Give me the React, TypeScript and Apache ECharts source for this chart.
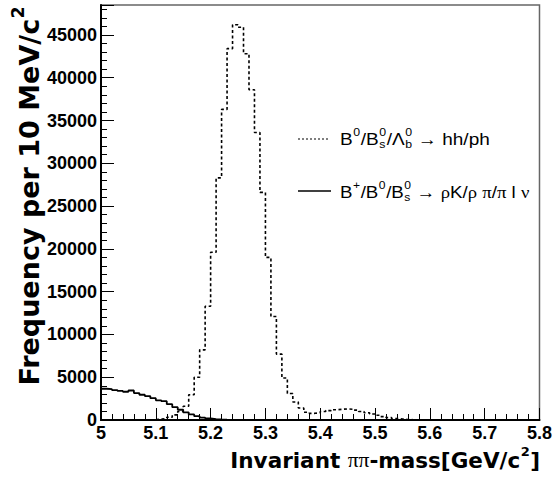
import React, { useEffect, useRef } from "react";
import * as echarts from "echarts";

// ---- data (10 MeV bins from 5.00 to 5.80 GeV/c^2) ----
const BIN_START = 5.0;
const BIN_WIDTH = 0.01;
const N_BINS = 80;

// B0/Bs/Lb -> hh/ph (dotted)
const hhCounts = [
  0, 0, 0, 0, 0, 0, 0, 0, 20, 50,
  100, 180, 320, 600, 1000, 1600, 2950, 5000, 8200, 13300,
  19600, 28300, 36300, 43400, 46200, 45900, 42800, 38600, 33600, 26600,
  19000, 12100, 7700, 4900, 3100, 2100, 1400, 900, 780, 850,
  1000, 1100, 1200, 1250, 1300, 1250, 1150, 1000, 850, 700,
  550, 400, 280, 180, 110, 60, 30, 10, 0, 0,
  0, 0, 0, 0, 0, 0, 0, 0, 0, 0,
  0, 0, 0, 0, 0, 0, 0, 0, 0, 0,
];

// B+/B0/Bs -> rhoK/rho pi/pi l nu (solid)
const slCounts = [
  3650, 3600, 3500, 3400, 3300, 3450, 3150, 2950, 2800, 2550,
  2300, 2200, 1850, 1500, 1200, 900, 650, 450, 280, 180,
  110, 70, 40, 25, 15, 10, 0, 0, 0, 0,
  0, 0, 0, 0, 0, 0, 0, 0, 0, 0,
  0, 0, 0, 0, 0, 0, 0, 0, 0, 0,
  0, 0, 0, 0, 0, 0, 0, 0, 0, 0,
  0, 0, 0, 0, 0, 0, 0, 0, 0, 0,
  0, 0, 0, 0, 0, 0, 0, 0, 0, 0,
];

const xTickLabels = ["5", "5.1", "5.2", "5.3", "5.4", "5.5", "5.6", "5.7", "5.8"];
const X_MIN = 5.0;
const X_MAX = 5.8;
const Y_MAX = 48500;

type Seg = [string, string, string?];
const xTitle: Seg[] = [["b", "Invariant "], ["g", "ππ"], ["b", "-mass[GeV/c"], ["sup", "2"], ["b", "]"]];
const yTitle: Seg[] = [["b", "Frequency per 10 MeV/c"], ["sup", "2"]];
const hhLegend: Seg[] = [
  ["n", "B"], ["sup", "0"], ["n", "/B"], ["ss", "0", "s"], ["n", "/Λ"], ["ss", "0", "b"], ["n", " → hh/ph"],
];
const slLegend: Seg[] = [
  ["n", "B"], ["sup", "+"], ["n", "/B"], ["sup", "0"], ["n", "/B"], ["ss", "0", "s"], ["n", " → "],
  ["g", "ρ"], ["n", "K/"], ["g", "ρ"], ["n", " "], ["g", "π"], ["n", "/"], ["g", "π"], ["n", " l "], ["g", "ν"],
];

function histPoints(counts: number[]) {
  const pts: [number, number][] = [];
  for (let i = 0; i < N_BINS; i++) {
    pts.push([+(BIN_START + i * BIN_WIDTH).toFixed(2), counts[i]]);
  }
  pts.push([X_MAX, counts[N_BINS - 1]]);
  return pts;
}

let measureCtx: CanvasRenderingContext2D | null = null;
function tw(text: string, size: number, family: string, weight: string) {
  if (!measureCtx) measureCtx = document.createElement("canvas").getContext("2d");
  measureCtx!.font = `${weight} ${size}px "${family}"`;
  return measureCtx!.measureText(text).width;
}

function layoutSegs(segs: Seg[], size: number, family: string, weight: string) {
  const children: any[] = [];
  let x = 0;
  const mk = (text: string, px: number, py: number, fs: number, fam: string, fw: string) => ({
    type: "text",
    x: px,
    y: py,
    style: { text, fontSize: fs, fontFamily: fam, fontWeight: fw, fill: "#000", align: "left", verticalAlign: "middle" },
  });
  const small = Math.round(size * 0.62);
  for (const s of segs) {
    const kind = s[0];
    if (kind === "n" || kind === "b") {
      children.push(mk(s[1], x, 0, size, family, weight));
      x += tw(s[1], size, family, weight);
    } else if (kind === "g") {
      children.push(mk(s[1], x, 0, size, "Liberation Serif", "normal"));
      x += tw(s[1], size, "Liberation Serif", "normal");
    } else if (kind === "sup") {
      children.push(mk(s[1], x + 0.5, -size * 0.4, small, family, weight));
      x += tw(s[1], small, family, weight) + 1;
    } else if (kind === "ss") {
      children.push(mk(s[1], x + 0.5, -size * 0.4, small, family, weight));
      children.push(mk(s[2] as string, x + 0.5, size * 0.28, small, family, weight));
      x += Math.max(tw(s[1], small, family, weight), tw(s[2] as string, small, family, weight)) + 1;
    }
  }
  return { children, width: x };
}

export default function App() {
  const ref = useRef<HTMLDivElement>(null);
  useEffect(() => {
    if (!ref.current) return;
    const chart = echarts.init(ref.current, undefined, { renderer: "svg" });

    const xt = layoutSegs(xTitle, 21.5, "DejaVu Sans", "bold");
    const yt = layoutSegs(yTitle, 27, "DejaVu Sans", "bold");
    const l1 = layoutSegs(hhLegend, 17, "Liberation Sans", "normal");
    const l2 = layoutSegs(slLegend, 17, "Liberation Sans", "normal");

    const axisFont = { fontFamily: "Liberation Sans", fontWeight: "bold" as const, fontSize: 18, color: "#000" };

    chart.setOption({
      animation: false,
      backgroundColor: "#fff",
      grid: { left: 101, top: 5, right: 15, bottom: 60, show: true, borderColor: "#666", borderWidth: 1.5 },
      xAxis: {
        type: "value",
        min: X_MIN,
        max: X_MAX,
        interval: 0.1,
        axisLine: { lineStyle: { color: "#000", width: 2 } },
        axisTick: { inside: true, length: 12, lineStyle: { color: "#000", width: 1 } },
        minorTick: { show: true, splitNumber: 5, length: 6, lineStyle: { color: "#000", width: 1 } },
        splitLine: { show: false },
        axisLabel: {
          ...axisFont,
          margin: 4,
          formatter: (v: number) => xTickLabels[Math.round((v - X_MIN) / 0.1)] ?? "",
        },
      },
      yAxis: {
        type: "value",
        min: 0,
        max: Y_MAX,
        interval: 5000,
        axisLine: { lineStyle: { color: "#000", width: 2 } },
        axisTick: { inside: true, length: 13, lineStyle: { color: "#000", width: 1 } },
        minorTick: { show: true, splitNumber: 5, length: 6, lineStyle: { color: "#000", width: 1 } },
        splitLine: { show: false },
        axisLabel: { ...axisFont, margin: 4, showMaxLabel: false, formatter: (v: number) => String(v) },
      },
      series: [
        {
          type: "line",
          step: "end",
          showSymbol: false,
          data: histPoints(hhCounts),
          lineStyle: { color: "#000", width: 1.6, type: [3, 2.5] },
          z: 3,
        },
        {
          type: "line",
          step: "end",
          showSymbol: false,
          data: histPoints(slCounts),
          lineStyle: { color: "#000", width: 1.8, type: "solid" },
          z: 3,
        },
      ],
      graphic: {
        elements: [
          { type: "group", x: 540 - xt.width, y: 460, children: xt.children },
          { type: "group", x: 29, y: 6, rotation: Math.PI / 2, children: yt.children.map((c: any) => ({ ...c, x: c.x - yt.width })) },
          { type: "line", shape: { x1: 298, y1: 139, x2: 330, y2: 139 }, style: { stroke: "#000", lineWidth: 1.2, lineDash: [2, 2] } },
          { type: "group", x: 340, y: 139, scaleX: 1.12, children: l1.children },
          { type: "line", shape: { x1: 298, y1: 191, x2: 331, y2: 191 }, style: { stroke: "#000", lineWidth: 1.4 } },
          { type: "group", x: 340, y: 192, scaleX: 1.1, children: l2.children },
        ],
      },
    });
    return () => chart.dispose();
  }, []);
  return <div ref={ref} style={{ position: "fixed", left: 0, top: 0, width: 555, height: 480, background: "#fff" }} />;
}
